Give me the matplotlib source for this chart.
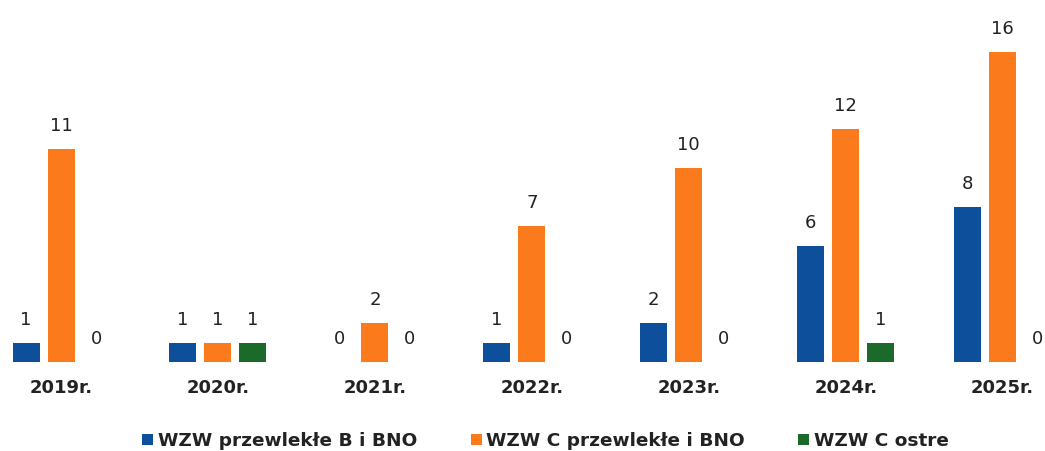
import matplotlib.pyplot as plt
import numpy as np

years = ["2019r.", "2020r.", "2021r.", "2022r.", "2023r.", "2024r.", "2025r."]
chronic_b = [1, 1, 0, 1, 2, 6, 8]
chronic_c = [11, 1, 2, 7, 10, 12, 16]
acute_c = [0, 1, 0, 0, 0, 1, 0]

series = [
    ("WZW przewlekłe B i BNO", chronic_b, "#0E4F9B"),
    ("WZW C przewlekłe i BNO", chronic_c, "#FA7A1C"),
    ("WZW C ostre", acute_c, "#1C6A2A"),
]

fig = plt.figure(figsize=(10.45, 4.51), dpi=100)
ax = fig.add_axes([0, 89 / 451, 1, 362 / 451])

x = np.arange(len(years))
offset = 0.223
width = 0.172
for i, (name, vals, color) in enumerate(series):
    pos = x + (i - 1) * offset
    bars = ax.bar(pos, vals, width, color=color, label=name)
    for xp, v in zip(pos, vals):
        ax.annotate(str(v), (xp, v), xytext=(0, 10), textcoords="offset points",
                    ha="center", va="bottom", fontsize=13, color="#222222")

ax.set_xlim(-0.389, 6.27)
ax.set_ylim(0, 18.66)
ax.set_xticks(x)
ax.set_xticklabels(years, fontsize=13, fontweight="bold", color="#222222")
ax.tick_params(axis="x", length=0, pad=12)
ax.set_yticks([])
for s in ax.spines.values():
    s.set_visible(False)

fig.legend(loc="center", bbox_to_anchor=(0.522, 1 - 441 / 451), ncol=3, frameon=False,
           prop={"size": 13.3, "weight": "bold"}, handlelength=0.6, handleheight=0.6,
           handletextpad=0.25, columnspacing=2.9, labelcolor="#222222")

fig.savefig("out.png")
